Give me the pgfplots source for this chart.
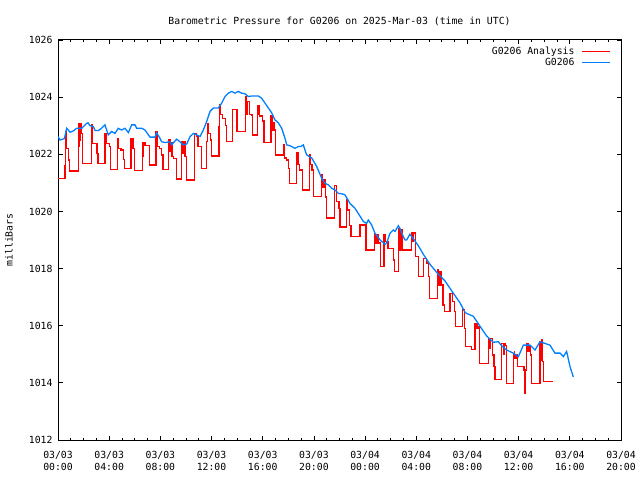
\documentclass[border=0pt]{standalone}
\usepackage{pgfplots}
\pgfplotsset{compat=1.18}
\usepackage{fontspec}
\setmainfont{DejaVu Sans Mono}
\definecolor{ablue}{RGB}{0,128,255}
\definecolor{ared}{RGB}{255,0,0}
\begin{document}
\begin{tikzpicture}
\begin{axis}[
  scale only axis,
  width=563bp, height=400bp,
  xmin=0, xmax=44, ymin=1012, ymax=1026,
  xtick={0,4,...,44},
  xticklabels={{03/03\\00:00},{03/03\\04:00},{03/03\\08:00},{03/03\\12:00},{03/03\\16:00},{03/03\\20:00},{03/04\\00:00},{03/04\\04:00},{03/04\\08:00},{03/04\\12:00},{03/04\\16:00},{03/04\\20:00}},
  minor x tick num=3,
  ytick={1012,1014,...,1026},
  /pgf/number format/1000 sep={},
  /pgf/number format/assume math mode=true,
  tick align=inside,
  major tick length=4.5bp, minor tick length=2.5bp,
  every tick/.style={black, line width=0.8bp},
  axis line style={line width=1bp},
  font=\fontsize{9.8bp}{12bp}\selectfont,
  xticklabel style={align=center, font=\fontsize{9.8bp}{12bp}\selectfont, yshift=-8bp},
  yticklabel style={font=\fontsize{9.8bp}{12bp}\selectfont, xshift=-2bp},
  every axis title shift=0pt,
  title={Barometric Pressure for G0206 on 2025-Mar-03 (time in UTC)},
  title style={at={(axis description cs:0.5,1.04)}, anchor=base, font=\fontsize{9.8bp}{12bp}\selectfont},
  ylabel={milliBars},
  ylabel style={at={(axis description cs:-0.087,0.5)}, anchor=center, font=\fontsize{9.8bp}{12bp}\selectfont},
  legend style={draw=none, fill=none, at={(axis description cs:1,1)}, anchor=north east, xshift=-10bp, yshift=-5bp, row sep=-2bp, inner sep=0pt, cells={anchor=east}, font=\fontsize{9.8bp}{12bp}\selectfont},
  legend plot pos=right,
  legend image code/.code={\path (0bp,0bp); \draw[#1] (5bp,0bp) -- (33bp,0bp);},
]
\addplot[ared, line width=1.3bp, const plot] coordinates {
(0,1021.16) (0.55,1021.59) (0.6,1022.79) (0.68,1022.21) (0.8,1021.8) (0.92,1021.41)
(1.59,1022.27) (1.63,1023.08) (1.7,1022.5) (1.75,1023.08) (1.8,1022.73) (1.9,1021.68)
(2.63,1023.03) (2.7,1022.38) (3.05,1022.03) (3.12,1021.68)
(3.67,1022.73) (3.72,1022.38) (3.76,1022.73) (3.8,1022.38) (4.0,1022.27) (4.1,1021.47)
(4.66,1022.56) (4.75,1022.21) (4.92,1022.15) (5.1,1021.82) (5.18,1021.5)
(5.7,1022.56) (5.85,1022.21) (6.0,1021.43)
(6.59,1021.94) (6.65,1022.41) (6.8,1022.31) (7.15,1021.63)
(7.66,1022.79) (7.8,1022.27) (7.95,1022.21) (8.1,1021.97) (8.2,1021.47)
(8.62,1022.5) (8.75,1022.1) (8.82,1022.41) (8.9,1021.92) (9.0,1021.85) (9.27,1021.13)
(9.66,1022.44) (9.75,1022.03) (9.82,1022.44) (9.93,1021.92) (10.05,1021.1)
(10.65,1022.73) (10.85,1022.62) (10.95,1022.27) (11.2,1021.5)
(11.62,1022.44) (11.68,1023.08) (11.75,1022.73) (11.92,1022.5) (12.0,1021.94)
(12.58,1022.97) (12.62,1023.72) (12.7,1023.4) (12.85,1023.25) (13.1,1023.0) (13.18,1022.44)
(13.63,1023.57) (14.0,1022.8)
(14.67,1024.02) (14.72,1023.4) (14.8,1023.84) (14.95,1023.4) (15.1,1023.38) (15.2,1022.68)
(15.61,1023.69) (15.7,1023.4) (15.75,1023.34) (16.0,1023.16) (16.1,1022.41)
(16.65,1023.34) (16.72,1022.85) (16.8,1023.1) (16.9,1022.85) (16.98,1021.97)
(17.65,1022.33) (17.72,1021.87) (17.85,1021.8) (18.0,1021.51) (18.1,1020.98)
(18.62,1022.05) (18.75,1021.64) (18.9,1021.45) (19.1,1020.75)
(19.66,1021.98) (19.75,1021.65) (19.85,1021.45) (19.95,1020.52)
(20.6,1021.27) (20.68,1020.85) (20.8,1021.1) (20.9,1020.5) (21.0,1019.77)
(21.6,1020.9) (21.75,1020.35) (21.95,1020.1) (22.05,1019.45)
(22.56,1020.4) (22.65,1020.05) (22.8,1019.5) (22.9,1019.12)
(23.6,1019.52) (24.07,1018.65)
(24.72,1019.23) (24.8,1018.9) (24.9,1019.2) (25.0,1018.9) (25.2,1018.07)
(25.48,1019.18) (25.6,1018.94) (25.8,1018.71) (26.2,1018.3) (26.28,1017.89)
(26.6,1019.41) (26.7,1018.65) (26.8,1019.35) (26.9,1018.65)
(27.6,1019.24) (27.7,1018.94) (27.8,1019.24) (27.95,1018.42) (28.15,1017.73)
(28.55,1018.36) (28.8,1018.2) (28.95,1017.73) (29.05,1016.96)
(29.64,1017.95) (29.75,1017.42) (29.85,1017.9) (29.95,1017.42) (30.08,1016.72) (30.2,1016.49)
(30.64,1017.13) (30.85,1016.84) (30.98,1016.5) (31.05,1015.97)
(31.63,1016.55) (31.75,1015.9) (31.85,1015.27) (32.3,1015.17)
(32.6,1016.08) (32.75,1015.9) (32.85,1015.95) (32.95,1014.68)
(33.63,1015.44) (33.68,1015.56) (33.75,1015.2) (33.82,1015.56) (33.95,1014.98) (34.08,1014.57) (34.15,1014.12)
(34.68,1015.38) (34.8,1015.0) (34.9,1015.38) (34.98,1015.3) (35.05,1013.98)
(35.6,1014.98) (35.65,1015.1) (35.7,1014.85) (35.8,1014.98) (35.9,1014.57)
(36.42,1014.45) (36.5,1013.63) (36.55,1014.45)
(36.63,1015.38) (36.72,1015.1) (36.8,1015.3) (36.9,1014.98) (36.98,1013.98)
(37.67,1015.44) (37.72,1014.8) (37.78,1015.5) (37.85,1014.74) (37.92,1014.04) (38.72,1014.04)
};
\addlegendentry{G0206 Analysis}
\addplot[ablue, line width=1.3bp] coordinates {
(0,1022.62) (0.16,1022.5) (0.5,1022.55) (0.68,1022.91) (0.95,1022.77) (1.2,1022.82)
(1.46,1022.91) (1.85,1022.91) (2.24,1023.08) (2.35,1023.1) (2.5,1023.0) (2.76,1022.97)
(2.9,1022.83) (3.15,1022.83) (3.4,1022.91) (3.67,1023.03) (3.8,1022.85) (3.93,1022.68)
(4.2,1022.8) (4.45,1022.73) (4.71,1022.91) (4.97,1022.85) (5.23,1022.91) (5.5,1022.76)
(5.76,1023.03) (6.02,1023.03) (6.15,1022.91) (6.54,1022.91) (6.8,1022.85) (7.19,1022.6)
(7.58,1022.6) (7.71,1022.75) (7.97,1022.56) (8.1,1022.44) (8.36,1022.41) (8.75,1022.44)
(8.88,1022.33) (9.27,1022.53) (9.53,1022.44) (9.8,1022.33) (10.06,1022.36) (10.32,1022.62)
(10.58,1022.73) (10.84,1022.68) (11.1,1022.62) (11.36,1022.85)
(11.62,1023.15) (11.88,1023.5) (12.14,1023.62) (12.53,1023.62) (12.79,1023.79) (13.05,1024.02)
(13.31,1024.14) (13.57,1024.2) (13.83,1024.14) (14.09,1024.2) (14.35,1024.14) (14.61,1024.12)
(14.88,1024.02) (15.14,1024.04) (15.66,1024.04) (15.92,1023.96) (16.18,1023.79) (16.44,1023.62)
(16.7,1023.45) (16.96,1023.2) (17.22,1023.1) (17.48,1022.91) (17.74,1022.56) (17.87,1022.33)
(18.13,1022.3) (18.52,1022.21) (18.78,1022.27) (18.98,1022.27) (19.17,1022.33) (19.43,1021.98)
(19.83,1021.87) (20.22,1021.57) (20.61,1021.16) (20.87,1020.98) (21.13,1020.93) (21.39,1020.81)
(21.65,1020.75) (21.91,1020.63) (22.17,1020.62) (22.43,1020.58) (22.82,1020.28) (23.21,1020.11)
(23.47,1019.93) (23.86,1019.65) (24.12,1019.58) (24.25,1019.7) (24.51,1019.53) (24.77,1019.24)
(25.17,1019.0) (25.56,1018.85) (25.69,1018.9) (25.95,1019.24) (26.2,1019.35) (26.34,1019.3)
(26.6,1019.5) (26.73,1019.4) (27.0,1019.1) (27.12,1019.0) (27.25,1019.0) (27.5,1019.2)
(27.77,1019.05) (28.16,1018.8) (28.55,1018.5) (29.07,1018.15) (29.59,1017.87) (30.24,1017.57)
(30.77,1017.22) (31.42,1016.8) (31.81,1016.47) (31.94,1016.43) (32.46,1016.33) (32.98,1015.98)
(33.5,1015.64) (34.02,1015.42) (34.41,1015.44) (34.67,1015.3) (35.06,1015.15) (35.58,1015.04)
(35.98,1014.92) (36.37,1015.32) (36.89,1015.32) (37.28,1015.15) (37.67,1015.44) (38.06,1015.38)
(38.45,1015.32) (38.84,1015.04) (39.24,1015.04) (39.5,1014.92) (39.75,1015.1) (40.02,1014.56)
(40.27,1014.21)
};
\addlegendentry{G0206}
\end{axis}
\pgfresetboundingbox
\path[use as bounding box] (-58bp,-40bp) rectangle (582bp,440bp);
\end{tikzpicture}
\end{document}
